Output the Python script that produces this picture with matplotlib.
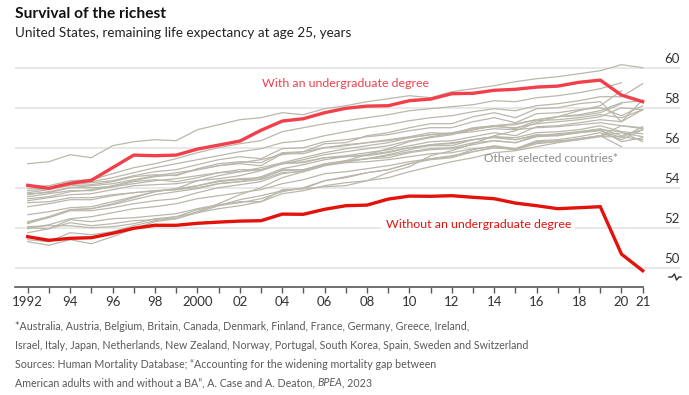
import numpy as np
import matplotlib
matplotlib.use("Agg")
import matplotlib.pyplot as plt
import matplotlib.transforms as mtransforms

plt.rcParams['font.family'] = ['Lato', 'DejaVu Sans']

years = list(range(1992, 2022))

with_degree = [54.12, 53.97, 54.22, 54.37, 55.0, 55.63, 55.6, 55.63, 55.93, 56.13,
               56.33, 56.87, 57.33, 57.45, 57.75, 57.97, 58.08, 58.1, 58.35, 58.43,
               58.7, 58.72, 58.87, 58.92, 59.03, 59.08, 59.27, 59.38, 58.63, 58.3]

without_degree = [51.55, 51.37, 51.47, 51.5, 51.72, 51.97, 52.12, 52.12, 52.22, 52.28,
                  52.33, 52.35, 52.68, 52.67, 52.92, 53.1, 53.13, 53.43, 53.58, 53.57,
                  53.6, 53.52, 53.45, 53.23, 53.1, 52.95, 53.0, 53.05, 50.68, 49.85]

nan = np.nan
# other selected countries, 1992-2021 (read off the chart, not labelled individually)
others = [
    [55.2, 55.3, 55.65, 55.5, 56.1, 56.3, 56.4, 56.35, 56.9, 57.15, 57.4, 57.5, 57.75, 57.65, 57.95,
     58.1, 58.3, 58.45, 58.6, 58.5, 58.8, 58.95, 59.1, 59.3, 59.45, 59.55, 59.7, 59.85, 60.15, 60.0],
    [54.05, 54.1, 54.35, 54.4, 54.7, 55.0, 55.2, 55.45, 55.75, 56.0, 56.2, 56.35, 56.8, 57.0, 57.2,
     57.35, 57.5, 57.65, 57.85, 57.95, 58.05, 58.15, 58.35, 58.3, 58.5, 58.6, 58.75, 58.95, 59.25, nan],
    [53.95, 54.0, 54.2, 54.3, 54.5, 54.75, 55.0, 55.2, 55.4, 55.6, 55.8, 55.95, 56.25, 56.35, 56.6,
     56.8, 57.0, 57.15, 57.35, 57.5, 57.6, 57.8, 57.95, 57.85, 58.1, 58.2, 58.35, 58.55, 58.55, 59.2],
    [53.85, 53.95, 54.1, 54.15, 54.3, 54.55, 54.65, 54.6, 54.95, 55.2, 55.3, 55.25, 55.75, 55.8, 56.2,
     56.25, 56.6, 56.75, 57.0, 57.2, 57.2, 57.55, 57.75, 57.5, 57.95, 58.0, 58.2, 58.3, 57.3, 58.4],
    [53.75, 53.9, 54.15, 54.25, 54.35, 54.6, 54.8, 54.9, 55.15, 55.4, 55.55, 55.45, 55.95, 56.0, 56.3,
     56.4, 56.55, 56.65, 56.85, 57.0, 57.0, 57.3, 57.5, 57.25, 57.7, 57.75, 57.9, 58.0, 57.6, 58.1],
    [53.65, 53.8, 54.0, 54.1, 54.2, 54.4, 54.6, 54.75, 54.9, 55.1, 55.2, 55.1, 55.7, 55.7, 56.0,
     56.15, 56.25, 56.4, 56.55, 56.75, 56.7, 57.0, 57.1, 56.95, 57.35, 57.4, 57.5, 57.65, 57.5, 57.9],
    [53.55, 53.7, 53.85, 53.85, 54.05, 54.2, 54.35, 54.45, 54.6, 54.75, 54.8, 54.9, 55.2, 55.3, 55.5,
     55.6, 55.75, 55.9, 56.1, 56.3, 56.35, 56.55, 56.75, 56.6, 57.05, 57.1, 57.25, 57.4, 57.3, 57.9],
    [53.45, 53.55, 53.8, 53.9, 54.1, 54.35, 54.55, 54.65, 54.9, 55.1, 55.25, 55.4, 55.65, 55.8, 56.0,
     56.1, 56.25, 56.35, 56.5, 56.65, 56.7, 56.8, 56.95, 56.9, 57.0, 57.05, 57.15, 57.25, 57.1, 56.95],
    [53.35, 53.5, 53.65, 53.7, 53.9, 54.1, 54.15, 54.2, 54.35, 54.45, 54.6, 54.85, 55.2, 55.4, 55.65,
     55.8, 55.95, 56.1, 56.35, 56.55, 56.7, 56.9, 57.1, 57.15, 57.4, 57.55, 57.65, 57.85, 58.25, 58.35],
    [53.25, 53.3, 53.5, 53.5, 53.65, 53.75, 53.85, 53.9, 54.0, 54.2, 54.3, 54.55, 54.95, 55.15, 55.4,
     55.55, 55.65, 55.8, 56.0, 56.15, 56.25, 56.4, 56.55, 56.5, 56.75, 56.8, 56.9, 57.1, 56.8, 56.7],
    [53.7, 53.75, 54.0, 54.0, 54.05, 54.3, 54.4, 54.3, 54.5, 54.75, 54.9, 54.9, 55.2, 55.25, 55.5,
     55.55, 55.6, 55.75, 56.0, 56.1, 56.1, 56.4, 56.55, 56.4, 56.65, 56.6, 56.8, 56.9, 56.8, 56.3],
    [52.65, 52.8, 53.0, 53.05, 53.3, 53.55, 53.8, 53.95, 54.1, 54.35, 54.45, 54.5, 54.85, 54.9, 55.15,
     55.3, 55.45, 55.5, 55.75, 55.9, 55.95, 56.15, 56.35, 56.25, 56.6, 56.7, 56.8, 56.95, 56.6, 56.9],
    [52.3, 52.55, 52.9, 52.95, 53.15, 53.4, 53.65, 53.8, 53.95, 54.2, 54.3, 54.4, 54.75, 54.8, 55.1,
     55.25, 55.3, 55.4, 55.55, 55.7, 55.75, 55.95, 56.05, 55.9, 56.3, 56.35, 56.4, 56.55, 56.55, 56.4],
    [52.25, 52.5, 52.85, 52.85, 53.0, 53.2, 53.35, 53.45, 53.75, 54.0, 54.15, 54.3, 54.7, 54.85, 55.15,
     55.3, 55.45, 55.65, 55.9, 56.15, 56.2, 56.4, 56.5, 56.4, 56.6, 56.65, 56.75, 56.9, 56.3, 56.5],
    [52.05, 52.1, 52.1, 52.0, 52.05, 52.2, 52.45, 52.55, 52.75, 52.95, 53.1, 53.3, 53.7, 53.85, 54.1,
     54.25, 54.35, 54.5, 54.8, 55.05, 55.3, 55.5, 55.75, 55.85, 56.05, 56.25, 56.4, 56.6, 57.1, 57.0],
    [51.95, 52.15, 52.45, 52.55, 52.75, 52.95, 53.05, 53.2, 53.45, 53.6, 53.75, 53.9, 54.2, 54.4, 54.7,
     54.8, 54.95, 55.1, 55.3, 55.45, 55.6, 55.8, 56.0, 55.95, 56.25, 56.3, 56.45, 56.6, 56.75, 56.55],
    [51.75, 51.95, 52.25, 52.1, 52.2, 52.35, 52.4, 52.45, 52.8, 53.2, 53.65, 54.0, 54.5, 54.8, 55.1,
     55.35, 55.65, 55.95, 56.3, 56.5, 56.65, 56.9, 57.1, 57.2, 57.4, 57.55, 57.6, 57.75, 58.2, nan],
    [52.0, 51.95, 52.4, 52.3, 52.45, 52.5, 52.6, 52.7, 52.95, 53.15, 53.3, 53.3, 53.9, 53.95, 54.35,
     54.5, 54.75, 54.9, 55.2, 55.45, 55.55, 55.9, 56.1, 55.95, 56.35, 56.4, 56.55, 56.75, 56.4, 56.9],
    [52.2, 52.55, 52.9, 52.95, 53.2, 53.5, 53.8, 53.95, 54.35, 54.6, 54.8, 55.0, 55.25, 55.5, 55.75,
     55.95, 56.1, 56.25, 56.5, 56.65, 56.75, 56.95, 57.05, 57.0, 57.2, 57.3, 57.4, 57.55, 58.0, 57.9],
    [51.3, 51.12, 51.4, 51.2, 51.55, 51.95, 52.3, 52.45, 52.75, 53.1, 53.4, 53.6, 53.85, 53.95, 54.05,
     54.1, 54.35, 54.75, 55.05, 55.6, 55.85, 56.2, 56.6, 56.85, 57.25, 57.55, 57.85, 58.1, 58.85, nan],
    [51.4, 51.3, 51.75, 51.65, 51.8, 52.1, 52.35, 52.55, 52.9, 53.1, 53.25, 53.45, 53.8, 54.0, 54.35,
     54.55, 54.75, 54.9, 55.2, 55.4, 55.5, 55.8, 56.0, 55.9, 56.2, 56.3, 56.45, 56.6, 56.05, nan],
    [53.05, 53.2, 53.4, 53.4, 53.6, 53.75, 53.85, 53.9, 54.1, 54.3, 54.4, 54.45, 54.9, 54.9, 55.2,
     55.35, 55.45, 55.6, 55.8, 55.95, 56.0, 56.25, 56.35, 56.25, 56.55, 56.6, 56.75, 56.85, 56.5, 57.05],
]

y_ticks = [50, 52, 54, 56, 58, 60]
x_ticks = [1992, 1994, 1996, 1998, 2000, 2002, 2004, 2006, 2008, 2010, 2012, 2014, 2016, 2018, 2020, 2021]
x_labels = ['1992', '94', '96', '98', '2000', '02', '04', '06', '08', '10', '12', '14', '16', '18', '20', '21']

RED_TOP = '#f2404a'
RED_BOT = '#e3120b'
GREY = '#bab7ab'

W, H = 689, 395


def fx(px):
    return px / W


def fy(py):
    return 1 - py / H


fig = plt.figure(figsize=(W / 100, H / 100), dpi=100)
ax = fig.add_axes([fx(15), fy(287.3), (680 - 15) / W, (287.3 - 57.7) / H])
ax.set_xlim(1991.4, 2022.76)
ax.set_ylim(49.02, 60.5)

for s in ['top', 'right', 'left', 'bottom']:
    ax.spines[s].set_visible(False)

# gridlines with labels sitting on top, right side
lbl_tr = mtransforms.blended_transform_factory(ax.transAxes, ax.transData)
for v in y_ticks:
    ax.axhline(v, color='#e6e6e6', lw=1.3, zorder=0)
    ax.text(1.0, v + 0.12, str(v), transform=lbl_tr, ha='right', va='bottom',
            fontsize=9.5, color='#333333')

for series in others:
    ax.plot(years, series, color=GREY, lw=0.9, zorder=2)

ax.plot(years, with_degree, color=RED_TOP, lw=2.4, zorder=4, solid_joinstyle='miter')
ax.plot(years, without_degree, color=RED_BOT, lw=2.4, zorder=4, solid_joinstyle='miter')

ax.text(2007.0, 59.2, 'With an undergraduate degree', color=RED_TOP, fontsize=8.9,
        ha='center', va='center', zorder=5)
ax.text(2013.25, 52.17, 'Without an undergraduate degree', color=RED_BOT, fontsize=8.9,
        ha='center', va='center', zorder=5,
        bbox=dict(facecolor='white', edgecolor='none', pad=3))
ax.text(2016.7, 55.47, 'Other selected countries*', color='#8a8a8a', fontsize=8.6,
        ha='center', va='center', zorder=5)

# x axis
ax.plot([1991.4, 2021], [49.02, 49.02], color='#595959', lw=1.2, clip_on=False, zorder=6)
ax.set_xticks(years, minor=True)
ax.set_xticks(x_ticks)
ax.set_xticklabels(x_labels)
ax.tick_params(axis='x', which='both', direction='out', length=4, width=1,
               color='#595959', labelsize=9.5, labelcolor='#333333', pad=2)
ax.set_yticks([])

# axis break glyph, in figure pixel coordinates
bx = [669, 672, 674.5, 676.5, 679, 681]
by = [277, 277, 274, 280, 277, 277]
fig.add_artist(plt.Line2D([fx(x) for x in bx], [fy(y) for y in by], color='#333333', lw=1,
                          transform=fig.transFigure))

fig.text(fx(15), fy(14), 'Survival of the richest', fontsize=11.2, fontweight='bold',
         color='#111111', ha='left', va='center')
fig.text(fx(15), fy(33), 'United States, remaining life expectancy at age 25, years',
         fontsize=9.7, color='#222222', ha='left', va='center')

foot = ['*Australia, Austria, Belgium, Britain, Canada, Denmark, Finland, France, Germany, Greece, Ireland,',
        'Israel, Italy, Japan, Netherlands, New Zealand, Norway, Portugal, South Korea, Spain, Sweden and Switzerland',
        'Sources: Human Mortality Database; \u201cAccounting for the widening mortality gap between']
for i, line in enumerate(foot):
    fig.text(fx(15), fy(327 + 18.7 * i), line, fontsize=7.65, color='#595959',
             ha='left', va='center')

# last source line with italic journal name
renderer = fig.canvas.get_renderer()
x0 = fx(15)
parts = [('American adults with and without a BA\u201d, A. Case and A. Deaton, ', 'normal'),
         ('BPEA', 'italic'), (', 2023', 'normal')]
for txt, style in parts:
    t = fig.text(x0, fy(383), txt, fontsize=7.65, color='#595959', ha='left', va='center',
                 fontstyle=style)
    bb = t.get_window_extent(renderer=renderer)
    x0 = bb.x1 / (W)

fig.savefig('out.png', dpi=100)
